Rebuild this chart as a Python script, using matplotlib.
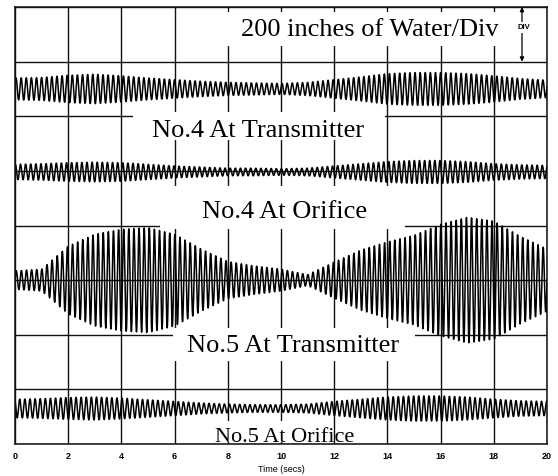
import numpy as np
import matplotlib
matplotlib.use("Agg")
import matplotlib.pyplot as plt
from matplotlib.patches import Rectangle

# Time axis ticks (seconds)
tick_secs = [0, 2, 4, 6, 8, 10, 12, 14, 16, 18, 20]
tick_labels = ["0", "2", "4", "6", "8", "10", "12", "14", "16", "18", "20"]

# Envelope (oscillation amplitude, in divisions) sampled once per second, 0..20 s
env_secs = list(range(21))
no4_transmitter_amp = [0.20, 0.21, 0.25, 0.27, 0.24, 0.20, 0.17, 0.14, 0.12, 0.11, 0.10,
                       0.12, 0.17, 0.22, 0.28, 0.30, 0.30, 0.28, 0.24, 0.19, 0.16]
no4_orifice_amp = [0.14, 0.15, 0.17, 0.18, 0.17, 0.14, 0.11, 0.09, 0.07, 0.07, 0.06,
                   0.07, 0.11, 0.15, 0.19, 0.21, 0.21, 0.19, 0.15, 0.13, 0.12]
no5_transmitter_amp = [0.17, 0.20, 0.62, 0.84, 0.93, 0.96, 0.84, 0.57, 0.34, 0.26, 0.20,
                       0.10, 0.33, 0.55, 0.70, 0.82, 1.02, 1.15, 1.08, 0.80, 0.57]
no5_orifice_amp = [0.17, 0.18, 0.20, 0.21, 0.19, 0.16, 0.13, 0.10, 0.08, 0.07, 0.07,
                   0.08, 0.13, 0.17, 0.21, 0.23, 0.23, 0.21, 0.17, 0.14, 0.13]

# Trace baselines (divisions from bottom) and pulsation frequency (Hz)
baselines = {"no4_tx": 6.5, "no4_or": 4.98, "no5_tx": 3.0, "no5_or": 0.65}
pulse_hz = 5.2

SERIF = ["Liberation Serif", "DejaVu Serif"]
SANS = ["Liberation Sans", "DejaVu Sans"]

fig = plt.figure(figsize=(5.58, 4.76), dpi=100)
ax = fig.add_axes([15 / 558, 32 / 476, 532 / 558, 437 / 476])
ax.set_xlim(0, 20)
ax.set_ylim(0, 8)

# grid: 2 s per vertical division, 1 div per horizontal line
ax.set_xticks(tick_secs)
ax.set_xticklabels(tick_labels, fontsize=6.5, fontfamily=SANS, fontweight="bold")
ax.set_yticks(range(0, 9))
ax.set_yticklabels([])
ax.tick_params(axis="both", length=0, pad=6)
ax.set_axisbelow(True)
ax.grid(True, color="#111111", linewidth=1.0)
for s in ax.spines.values():
    s.set_linewidth(1.1)
    s.set_color("#111111")
    s.set_zorder(2.5)
ax.set_xlabel("Time (secs)", fontsize=6.5, fontfamily=SANS, labelpad=3)

# white label panels that interrupt the grid
panels = [
    (7.52, 7.29, 11.09, 0.62),   # scale label
    (4.44, 5.57, 9.47, 0.51),    # No.4 transmitter
    (5.45, 3.94, 9.21, 0.78),    # No.4 orifice
    (5.94, 1.52, 9.10, 0.60),    # No.5 transmitter
    (7.14, 0.03, 4.70, 0.39),    # No.5 orifice
]
for x0, y0, w, h in panels:
    ax.add_patch(Rectangle((x0, y0), w, h, facecolor="white", edgecolor="none", zorder=1))

# pressure traces
t = np.linspace(0, 20, 12001)
series = [
    (no4_transmitter_amp, baselines["no4_tx"], 0.3),
    (no4_orifice_amp, baselines["no4_or"], 1.1),
    (no5_transmitter_amp, baselines["no5_tx"], 0.0),
    (no5_orifice_amp, baselines["no5_or"], 2.0),
]
for amp, base, phase in series:
    env = np.interp(t, env_secs, amp)
    y = base + env * np.sin(2 * np.pi * pulse_hz * t + phase)
    ax.plot(t, y, color="black", linewidth=1.1, zorder=2)

# labels
ax.text(8.50, 7.47, "200 inches of Water/Div", fontsize=19, fontfamily=SERIF,
        ha="left", va="baseline", zorder=3)
ax.text(5.15, 5.62, "No.4 At Transmitter", fontsize=19, fontfamily=SERIF,
        ha="left", va="baseline", zorder=3)
ax.text(7.03, 4.14, "No.4 At Orifice", fontsize=19, fontfamily=SERIF,
        ha="left", va="baseline", zorder=3)
ax.text(6.47, 1.68, "No.5 At Transmitter", fontsize=19, fontfamily=SERIF,
        ha="left", va="baseline", zorder=3)
ax.text(7.52, 0.04, "No.5 At Orifice", fontsize=16, fontfamily=SERIF,
        ha="left", va="baseline", zorder=3)

# one-division scale marker
ax.annotate("", xy=(19.06, 8.0), xytext=(19.06, 7.0),
            arrowprops=dict(arrowstyle="<|-|>", lw=0.9, color="black",
                            mutation_scale=6, shrinkA=0, shrinkB=0), zorder=3)
ax.text(19.12, 7.62, "DIV", fontsize=5.5, fontfamily=SANS, fontweight="bold",
        ha="center", va="center", zorder=4,
        bbox=dict(facecolor="white", edgecolor="none", pad=1.5))

fig.savefig("out.png", dpi=100)
